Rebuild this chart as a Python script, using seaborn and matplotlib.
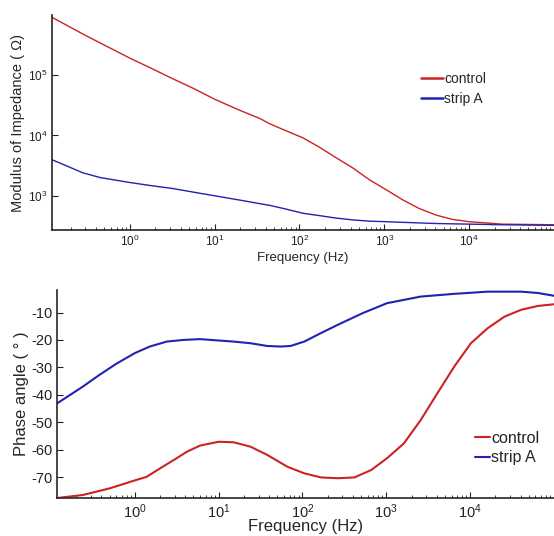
import numpy as np
import pandas as pd
import seaborn as sns
import matplotlib
matplotlib.use("Agg")
import matplotlib.pyplot as plt
from matplotlib.lines import Line2D
from matplotlib.ticker import LogLocator, NullLocator

# impedance modulus (Bode magnitude), ohm
freq_mod = [0.12, 0.28, 0.45, 1, 1.74, 3.2, 5.6, 10, 19.5, 34, 45, 69, 110,
            174, 270, 427, 660, 1050, 1660, 2570, 4070, 6310, 10000, 24500,
            100000]
z_control = [912000, 479000, 339000, 191000, 132000, 87100, 60300, 39800,
             26300, 19100, 15500, 12000, 9120, 6310, 4270, 2880, 1860, 1260,
             851, 617, 479, 407, 372, 339, 331]
z_stripA = [3980, 2400, 2000, 1660, 1480, 1320, 1150, 1000, 851, 741, 692,
            603, 513, 468, 427, 398, 380, 372, 363, 355, 347, 343, 339, 331,
            324]

# phase angle, degrees
freq_ph_control = [0.12, 0.24, 0.5, 0.95, 1.38, 2.0, 2.9, 4.2, 6.0, 10, 15.1,
                   24, 38, 66, 105, 166, 263, 417, 660, 1020, 1620, 2570, 4070,
                   6460, 10200, 16200, 25700, 40700, 64600, 100000]
ph_control = [-77.6, -76.5, -74.1, -71.4, -69.9, -66.8, -63.8, -60.7, -58.5,
              -57.1, -57.3, -58.9, -61.9, -66.2, -68.6, -70.1, -70.4, -70.1,
              -67.4, -63.1, -57.7, -49.2, -39.4, -29.7, -21.2, -15.7, -11.5,
              -9.0, -7.6, -7.0]
freq_ph_strip = [0.12, 0.24, 0.38, 0.6, 1, 1.51, 2.4, 3.8, 6.0, 10, 15.1, 24,
                 38, 55, 72, 105, 166, 263, 525, 1020, 2570, 6460, 16200,
                 40700, 64600, 100000]
ph_strip = [-43, -37, -32.7, -28.7, -24.8, -22.4, -20.6, -20.0, -19.7, -20.2,
            -20.6, -21.2, -22.2, -22.4, -22.2, -20.6, -17.5, -14.5, -10.2,
            -6.6, -4.2, -3.2, -2.4, -2.4, -2.9, -3.9]

labels = ["control", "strip A"]
colors = {"control": "#cc2222", "strip A": "#2222b0"}
decades = [1, 10, 100, 1000, 10000]

sns.set_style("ticks")
plt.rcParams["font.family"] = ["Liberation Sans", "DejaVu Sans"]
plt.rcParams["mathtext.fontset"] = "custom"
plt.rcParams["mathtext.rm"] = "Liberation Sans"
plt.rcParams["mathtext.it"] = "Liberation Sans"
plt.rcParams["axes.unicode_minus"] = False

mod_df = pd.concat([
    pd.DataFrame({"f": freq_mod, "v": z_control, "s": labels[0]}),
    pd.DataFrame({"f": freq_mod, "v": z_stripA, "s": labels[1]}),
])
ph_df = pd.concat([
    pd.DataFrame({"f": freq_ph_control, "v": ph_control, "s": labels[0]}),
    pd.DataFrame({"f": freq_ph_strip, "v": ph_strip, "s": labels[1]}),
])

fig = plt.figure(figsize=(5.54, 5.36), dpi=100)
W, H = 554, 536
ax1 = fig.add_axes([52 / W, 1 - 230 / H, (554 - 52) / W, (230 - 15) / H])
ax2 = fig.add_axes([57 / W, 1 - 498 / H, (554 - 57) / W, (498 - 290) / H])

sns.lineplot(data=mod_df, x="f", y="v", hue="s", palette=colors, ax=ax1,
             linewidth=1.0, sort=False, legend=False)
sns.lineplot(data=ph_df, x="f", y="v", hue="s", palette=colors, ax=ax2,
             linewidth=1.5, sort=False, legend=False)

for ax in (ax1, ax2):
    ax.set_xscale("log")
    sns.despine(ax=ax)
    ax.tick_params(direction="in", which="both", colors="#222222")
    ax.tick_params(which="major", length=4, width=0.8)
    ax.tick_params(which="minor", length=2, width=0.6)
    ax.set_xticks(decades)
    ax.xaxis.set_minor_locator(LogLocator(base=10, subs=np.arange(2, 10), numticks=20))
    ax.spines["left"].set_linewidth(1.2)
    ax.spines["bottom"].set_linewidth(1.2)

ax1.set_yscale("log")
ax1.set_xlim(0.121, 1e5)
ax1.set_ylim(271, 9.9e5)
ax1.set_yticks([1e3, 1e4, 1e5])
ax1.yaxis.set_minor_locator(NullLocator())
ax1.tick_params(labelsize=8.5, pad=3)
ax1.set_xlabel("Frequency (Hz)", fontsize=9.5, labelpad=2)
ax1.set_ylabel("Modulus of Impedance ( \u03a9)", fontsize=10.5, labelpad=2)

ax2.set_xlim(0.118, 1e5)
ax2.set_ylim(-77.6, -1.8)
ax2.set_yticks([-70, -60, -50, -40, -30, -20, -10])
ax2.tick_params(labelsize=10.5, pad=3)
ax2.set_xlabel("Frequency (Hz)", fontsize=12, labelpad=-1)
ax2.set_ylabel("Phase angle ( \u00b0 )", fontsize=12, labelpad=2)

h = [Line2D([], [], color=colors[l], lw=1.8) for l in labels]
fig.legend(h, labels, loc="center left", bbox_to_anchor=(421 / W, 1 - 89 / H),
           frameon=False, fontsize=10, handlelength=1.6, handletextpad=0.05,
           borderpad=0, borderaxespad=0, labelspacing=0.45)
h2 = [Line2D([], [], color=colors[l], lw=1.5) for l in labels]
fig.legend(h2, labels, loc="center left", bbox_to_anchor=(475 / W, 1 - 448 / H),
           frameon=False, fontsize=11.5, handlelength=0.95, handletextpad=0.05,
           borderpad=0, borderaxespad=0, labelspacing=0.3)

fig.savefig("out.png", dpi=100)
